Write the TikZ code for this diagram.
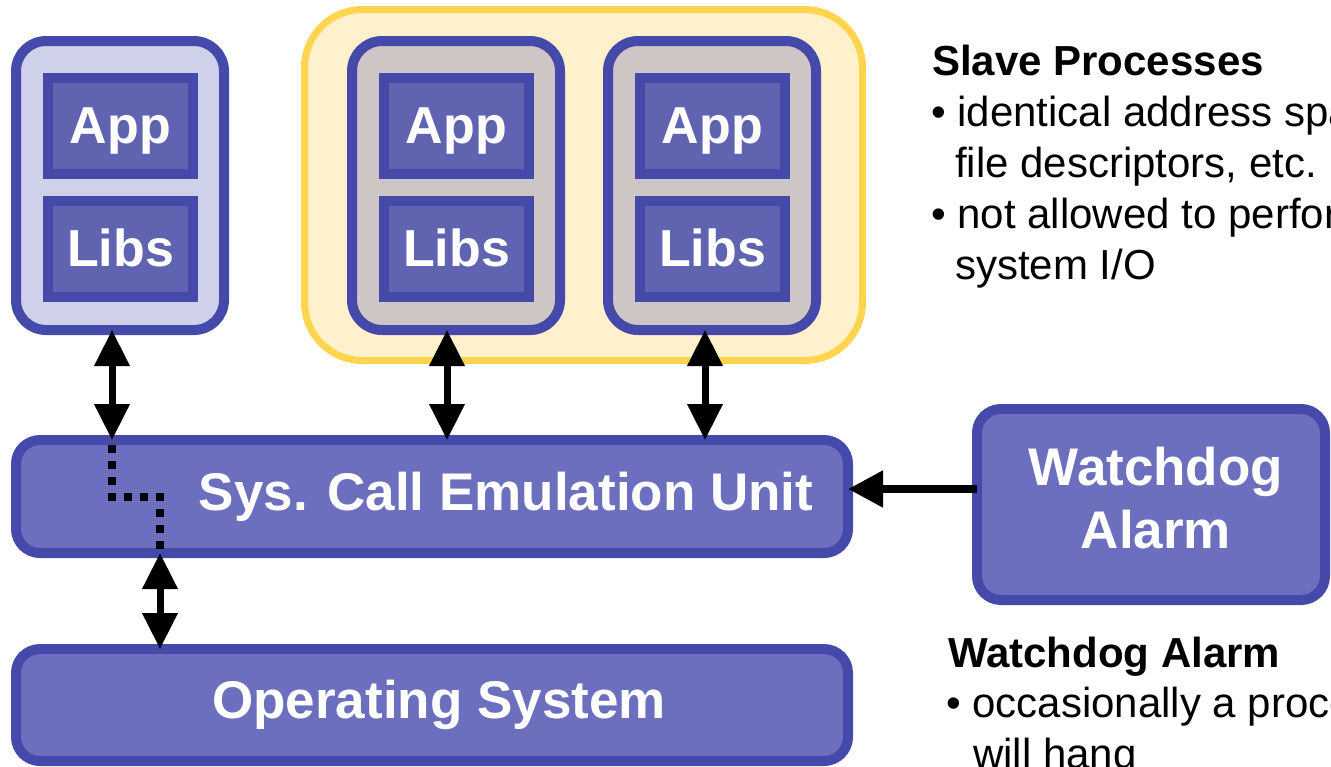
\documentclass[tikz,border=0pt]{standalone}
\usepackage{fontspec}
\setmainfont{Liberation Sans}
\usetikzlibrary{arrows.meta}

\definecolor{edgeblue}{HTML}{4549AA}
\definecolor{procmain}{HTML}{CFD0E9}
\definecolor{procslave}{HTML}{CEC6C4}
\definecolor{partfill}{HTML}{6064B0}
\definecolor{unitfill}{HTML}{6B6FBE}
\definecolor{groupfill}{HTML}{FFF1CB}
\definecolor{groupedge}{HTML}{FFD54F}

\begin{document}
\begin{tikzpicture}[x=1pt,y=-1pt,
  procbox/.style={draw=edgeblue, line width=10pt, rounded corners=30pt,
    minimum width=208pt, minimum height=289pt, inner sep=0pt, outer sep=0pt},
  partbox/.style={draw=edgeblue, line width=10pt, fill=partfill,
    minimum width=145pt, minimum height=96pt, inner sep=0pt, outer sep=0pt,
    text=white, text height=37pt, text depth=3pt,
    font=\fontsize{52}{60}\selectfont\bfseries},
  unitbox/.style={draw=edgeblue, line width=10pt, fill=unitfill,
    rounded corners=24pt, inner sep=0pt, outer sep=0pt, text=white, align=center,
    font=\fontsize{53}{63}\selectfont\bfseries},
  grouping/.style={draw=groupedge, line width=7pt, fill=groupfill,
    rounded corners=58pt, minimum width=558pt, minimum height=351pt,
    inner sep=0pt, outer sep=0pt},
  note/.style={inner sep=0pt, anchor=base west, text=black,
    font=\fontsize{42}{51}\selectfont},
  link/.style={line width=7pt,
    {Triangle[length=36pt,width=34pt]}-{Triangle[length=36pt,width=34pt]}},
  push/.style={line width=8pt, -{Triangle[length=35pt,width=35pt]}},
  dotlink/.style={line width=8pt, line cap=butt, line join=miter,
    dash pattern=on 8pt off 8pt, dash phase=11pt}
]
\path[use as bounding box, clip] (0,0) rectangle (1331,766);

% slave process group
\node[grouping] (grp) at (583.5,185) {};

% master and slave processes
\node[procbox, fill=procmain]  (lp) at (120,185.5) {};
\node[procbox, fill=procslave] (mp) at (456,185.5) {};
\node[procbox, fill=procslave] (rp) at (712,185.5) {};

\node[partbox] (lapp)  at (120.5,126) {App};
\node[partbox] (llibs) at (120.5,249) {Libs};
\node[partbox] (mapp)  at (456.5,126) {App};
\node[partbox] (mlibs) at (456.5,249) {Libs};
\node[partbox] (rapp)  at (712.5,126) {App};
\node[partbox] (rlibs) at (712.5,249) {Libs};

% system layers
\node[unitbox, minimum width=832pt, minimum height=113pt] (sys) at (432,496.5)
  {\hspace*{148pt}\raisebox{-3pt}{Sys. Call Emulation Unit}};
\node[unitbox, minimum width=832pt, minimum height=112pt] (os) at (432,705)
  {\hspace*{14pt}\raisebox{-4pt}{Operating System}};
\node[unitbox, minimum width=348pt, minimum height=191pt] (wd) at (1151,504.5)
  {\hspace*{10pt}\raisebox{7pt}{\begin{tabular}{@{}c@{}}Watchdog\\Alarm\end{tabular}}};

% process <-> emulation unit
\draw[link] ([xshift=-8pt]lp.south) -- ([xshift=-8pt]lp.south |- sys.north);
\draw[link] ([xshift=-9pt]mp.south) -- ([xshift=-9pt]mp.south |- sys.north);
\draw[link] ([xshift=-7pt]rp.south) -- ([xshift=-7pt]rp.south |- sys.north);

% pass-through of the master's calls
\coordinate (oscol) at (160,600);
\draw[dotlink] ([xshift=-8pt]lp.south |- sys.north) -- ++(0,57) -| (sys.south -| oscol);
\draw[link] (sys.south -| oscol) -- (os.north -| oscol);

% watchdog
\draw[push] ([yshift=15.5pt]wd.west) -- ([yshift=15.5pt]wd.west -| sys.east);

% notes
\node[note] (sp0) at (932,75)  {\bfseries Slave Processes};
\node[note] (sp1) at (931,126) {\textbullet\ identical address space,};
\node[note] (sp2) at (955,177) {file descriptors, etc.};
\node[note] (sp3) at (931,228) {\textbullet\ not allowed to perform};
\node[note] (sp4) at (955,279) {system I/O};

\node[note] (wn0) at (948,667) {\bfseries Watchdog Alarm};
\node[note] (wn1) at (946,717) {\textbullet\ occasionally a process};
\node[note] (wn2) at (973,768) {will hang};
\end{tikzpicture}
\end{document}
